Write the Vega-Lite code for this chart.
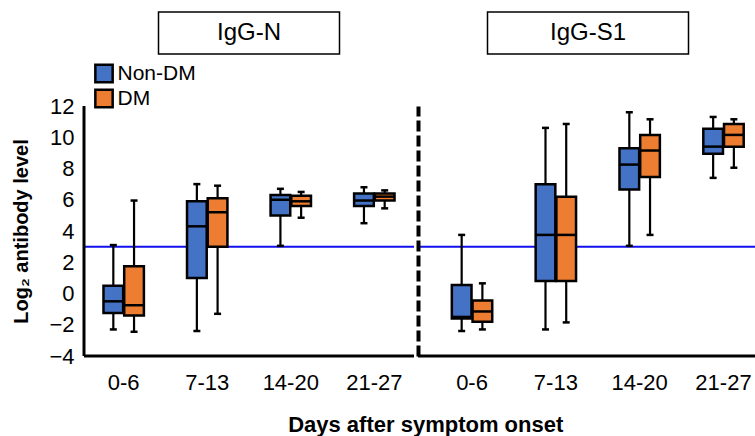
{
  "$schema": "https://vega.github.io/schema/vega-lite/v6.json",
  "background": "white",
  "padding": {"left": 11, "top": 11, "right": 0, "bottom": 0},
  "config": {
    "font": "Liberation Sans",
    "view": {"stroke": null},
    "axis": {"grid": false, "ticks": false, "domain": true, "domainColor": "black", "domainOpacity": 1, "labelColor": "black", "titleColor": "black", "labelFont": "Liberation Sans", "titleFont": "Liberation Sans", "zindex": 1},
    "legend": {"labelFont": "Liberation Sans"}
  },
  "datasets": {
    "boxes": [
      {"antibody": "IgG-N", "days": "0-6", "status": "Non-DM", "min": -2.3, "q1": -1.25, "median": -0.5, "q3": 0.5, "max": 3.1},
      {"antibody": "IgG-N", "days": "0-6", "status": "DM", "min": -2.45, "q1": -1.4, "median": -0.75, "q3": 1.75, "max": 5.95},
      {"antibody": "IgG-N", "days": "7-13", "status": "Non-DM", "min": -2.4, "q1": 1.0, "median": 4.3, "q3": 5.9, "max": 7.0},
      {"antibody": "IgG-N", "days": "7-13", "status": "DM", "min": -1.3, "q1": 3.0, "median": 5.2, "q3": 6.1, "max": 6.9},
      {"antibody": "IgG-N", "days": "14-20", "status": "Non-DM", "min": 3.05, "q1": 5.0, "median": 6.0, "q3": 6.3, "max": 6.7},
      {"antibody": "IgG-N", "days": "14-20", "status": "DM", "min": 4.85, "q1": 5.6, "median": 5.9, "q3": 6.25, "max": 6.5},
      {"antibody": "IgG-N", "days": "21-27", "status": "Non-DM", "min": 4.5, "q1": 5.6, "median": 5.95, "q3": 6.4, "max": 6.8},
      {"antibody": "IgG-N", "days": "21-27", "status": "DM", "min": 5.45, "q1": 5.95, "median": 6.2, "q3": 6.4, "max": 6.6},
      {"antibody": "IgG-S1", "days": "0-6", "status": "Non-DM", "min": -2.4, "q1": -1.6, "median": -1.5, "q3": 0.55, "max": 3.75},
      {"antibody": "IgG-S1", "days": "0-6", "status": "DM", "min": -2.3, "q1": -1.8, "median": -1.15, "q3": -0.45, "max": 0.65},
      {"antibody": "IgG-S1", "days": "7-13", "status": "Non-DM", "min": -2.3, "q1": 0.8, "median": 3.75, "q3": 7.0, "max": 10.6},
      {"antibody": "IgG-S1", "days": "7-13", "status": "DM", "min": -1.85, "q1": 0.8, "median": 3.75, "q3": 6.2, "max": 10.85},
      {"antibody": "IgG-S1", "days": "14-20", "status": "Non-DM", "min": 3.05, "q1": 6.65, "median": 8.25, "q3": 9.3, "max": 11.6},
      {"antibody": "IgG-S1", "days": "14-20", "status": "DM", "min": 3.75, "q1": 7.45, "median": 9.15, "q3": 10.15, "max": 11.15},
      {"antibody": "IgG-S1", "days": "21-27", "status": "Non-DM", "min": 7.4, "q1": 8.95, "median": 9.4, "q3": 10.55, "max": 11.3},
      {"antibody": "IgG-S1", "days": "21-27", "status": "DM", "min": 8.05, "q1": 9.4, "median": 10.15, "q3": 10.85, "max": 11.15}
    ]
  },
  "title": {"text": "Days after symptom onset", "orient": "bottom", "anchor": "middle", "fontSize": 22, "fontWeight": "bold", "font": "Liberation Sans", "color": "black", "offset": 22, "dx": 40},
  "spacing": 0,
  "resolve": {"scale": {"x": "independent", "xOffset": "independent", "y": "independent"}},
  "hconcat": [
    {
      "spacing": 52,
      "center": true,
      "bounds": "flush",
      "vconcat": [
        {
          "width": 181,
          "height": 42,
          "view": {"stroke": "black", "strokeWidth": 1.5},
          "data": {"values": [{"label": "IgG-N"}]},
          "mark": {"type": "text", "fontSize": 24, "font": "Liberation Sans", "color": "black"},
          "encoding": {"text": {"field": "label", "type": "nominal"}}
        },
        {
          "width": 330,
          "height": 250,
          "data": {"name": "boxes"},
          "transform": [{"filter": "datum.antibody === 'IgG-N'"}],
          "layer": [
            {
              "data": {"values": [{"cutoff": 3}]},
              "mark": {"type": "rule", "color": "#1010ee", "strokeWidth": 2},
              "encoding": {"y": {"field": "cutoff", "type": "quantitative", "scale": {"domain": [-4, 12]},
                "axis": {"values": [-4, -2, 0, 2, 4, 6, 8, 10, 12], "labelFontSize": 22, "labelPadding": 10, "labelOverlap": false, "format": "d", "domain": false, "zindex": 1,
                  "title": "Log₂ antibody level", "titleFontSize": 20, "titleFontWeight": "bold", "titlePadding": 17}}}
            },
            {
              "mark": {"type": "rule", "color": "black", "strokeWidth": 2.2},
              "encoding": {
                "x": {"field": "days", "type": "nominal", "sort": ["0-6", "7-13", "14-20", "21-27"],
                  "scale": {"paddingInner": 0.05, "paddingOuter": 0, "align": 0},
                  "axis": {"title": null, "labelAngle": 0, "labelFontSize": 22, "labelPadding": 16, "domain": false, "zindex": 1}},
                "xOffset": {"field": "status", "type": "nominal", "sort": ["Non-DM", "DM"], "scale": {"paddingInner": 0.05, "paddingOuter": 0.94}},
                "y": {"field": "min", "type": "quantitative",
                  "axis": {"values": [-4, -2, 0, 2, 4, 6, 8, 10, 12], "labelFontSize": 22, "labelPadding": 10, "labelOverlap": false, "format": "d", "domain": false, "zindex": 1,
                    "title": "Log₂ antibody level", "titleFontSize": 20, "titleFontWeight": "bold", "titlePadding": 17}},
                "y2": {"field": "max"}
              }
            },
            {
              "mark": {"type": "bar", "stroke": "black", "strokeWidth": 2.5},
              "encoding": {
                "x": {"field": "days", "type": "nominal", "sort": ["0-6", "7-13", "14-20", "21-27"]},
                "xOffset": {"field": "status", "type": "nominal", "sort": ["Non-DM", "DM"]},
                "y": {"field": "q1", "type": "quantitative",
                  "axis": {"values": [-4, -2, 0, 2, 4, 6, 8, 10, 12], "labelFontSize": 22, "labelPadding": 10, "labelOverlap": false, "format": "d", "domain": false, "zindex": 1,
                    "title": "Log₂ antibody level", "titleFontSize": 20, "titleFontWeight": "bold", "titlePadding": 17}},
                "y2": {"field": "q3"},
                "color": {"field": "status", "type": "nominal", "sort": ["Non-DM", "DM"],
                  "scale": {"domain": ["Non-DM", "DM"], "range": ["#4472C4", "#ED7D31"]},
                  "legend": {"title": null, "orient": "none", "legendX": 9.5, "legendY": 51, "symbolType": "square", "symbolSize": 300, "symbolStrokeColor": "black", "symbolStrokeWidth": 2.5, "labelFontSize": 21, "labelColor": "black", "labelOffset": 3, "rowPadding": -6}}
              }
            },
            {
              "mark": {"type": "tick", "color": "black", "size": 20, "thickness": 2.5, "opacity": 1},
              "encoding": {
                "x": {"field": "days", "type": "nominal", "sort": ["0-6", "7-13", "14-20", "21-27"]},
                "xOffset": {"field": "status", "type": "nominal", "sort": ["Non-DM", "DM"]},
                "y": {"field": "median", "type": "quantitative",
                  "axis": {"values": [-4, -2, 0, 2, 4, 6, 8, 10, 12], "labelFontSize": 22, "labelPadding": 10, "labelOverlap": false, "format": "d", "domain": false, "zindex": 1,
                    "title": "Log₂ antibody level", "titleFontSize": 20, "titleFontWeight": "bold", "titlePadding": 17}}}
            },
            {
              "mark": {"type": "tick", "color": "black", "size": 7, "thickness": 2.5, "opacity": 1},
              "encoding": {
                "x": {"field": "days", "type": "nominal", "sort": ["0-6", "7-13", "14-20", "21-27"]},
                "xOffset": {"field": "status", "type": "nominal", "sort": ["Non-DM", "DM"]},
                "y": {"field": "min", "type": "quantitative",
                  "axis": {"values": [-4, -2, 0, 2, 4, 6, 8, 10, 12], "labelFontSize": 22, "labelPadding": 10, "labelOverlap": false, "format": "d", "domain": false, "zindex": 1,
                    "title": "Log₂ antibody level", "titleFontSize": 20, "titleFontWeight": "bold", "titlePadding": 17}}}
            },
            {
              "mark": {"type": "tick", "color": "black", "size": 7, "thickness": 2.5, "opacity": 1},
              "encoding": {
                "x": {"field": "days", "type": "nominal", "sort": ["0-6", "7-13", "14-20", "21-27"]},
                "xOffset": {"field": "status", "type": "nominal", "sort": ["Non-DM", "DM"]},
                "y": {"field": "max", "type": "quantitative",
                  "axis": {"values": [-4, -2, 0, 2, 4, 6, 8, 10, 12], "labelFontSize": 22, "labelPadding": 10, "labelOverlap": false, "format": "d", "domain": false, "zindex": 1,
                    "title": "Log₂ antibody level", "titleFontSize": 20, "titleFontWeight": "bold", "titlePadding": 17}}}
            },
            {
              "transform": [{"filter": "datum.days === '0-6' && datum.status === 'Non-DM'"}],
              "mark": {"type": "rule", "color": "black", "strokeWidth": 3},
              "encoding": {
                "x": {"field": "days", "type": "nominal", "sort": ["0-6", "7-13", "14-20", "21-27"], "bandPosition": 0},
                "y": {"datum": -4, "type": "quantitative",
                  "axis": {"values": [-4, -2, 0, 2, 4, 6, 8, 10, 12], "labelFontSize": 22, "labelPadding": 10, "labelOverlap": false, "format": "d", "domain": false, "zindex": 1,
                    "title": "Log₂ antibody level", "titleFontSize": 20, "titleFontWeight": "bold", "titlePadding": 17}},
                "y2": {"datum": 12}
              }
            },
            {
              "data": {"values": [{"base": -4}]},
              "mark": {"type": "rule", "color": "black", "strokeWidth": 3},
              "encoding": {"y": {"field": "base", "type": "quantitative",
                "axis": {"values": [-4, -2, 0, 2, 4, 6, 8, 10, 12], "labelFontSize": 22, "labelPadding": 10, "labelOverlap": false, "format": "d", "domain": false, "zindex": 1,
                  "title": "Log₂ antibody level", "titleFontSize": 20, "titleFontWeight": "bold", "titlePadding": 17}}}
            }
          ]
        }
      ]
    },
    {
      "spacing": 52,
      "center": true,
      "bounds": "flush",
      "vconcat": [
        {
          "width": 201,
          "height": 42,
          "view": {"stroke": "black", "strokeWidth": 1.5},
          "data": {"values": [{"label": "IgG-S1"}]},
          "mark": {"type": "text", "fontSize": 24, "font": "Liberation Sans", "color": "black"},
          "encoding": {"text": {"field": "label", "type": "nominal"}}
        },
        {
          "width": 340,
          "height": 250,
          "data": {"name": "boxes"},
          "transform": [{"filter": "datum.antibody === 'IgG-S1'"}],
          "layer": [
            {
              "data": {"values": [{"cutoff": 3}]},
              "mark": {"type": "rule", "color": "#1010ee", "strokeWidth": 2},
              "encoding": {"y": {"field": "cutoff", "type": "quantitative", "scale": {"domain": [-4, 12]},
                "axis": {"labels": false, "title": null, "domain": true, "domainColor": "black", "domainWidth": 4, "domainDash": [11, 4], "zindex": 1}}}
            },
            {
              "mark": {"type": "rule", "color": "black", "strokeWidth": 2.2},
              "encoding": {
                "x": {"field": "days", "type": "nominal", "sort": ["0-6", "7-13", "14-20", "21-27"],
                  "scale": {"paddingInner": 0.177, "paddingOuter": 0.1165, "align": 1},
                  "axis": {"title": null, "labelAngle": 0, "labelFontSize": 22, "labelPadding": 16, "domain": false, "zindex": 1}},
                "xOffset": {"field": "status", "type": "nominal", "sort": ["Non-DM", "DM"], "scale": {"paddingInner": 0.05, "paddingOuter": 0.69}},
                "y": {"field": "min", "type": "quantitative",
                  "axis": {"labels": false, "title": null, "domain": true, "domainColor": "black", "domainWidth": 4, "domainDash": [11, 4], "zindex": 1}},
                "y2": {"field": "max"}
              }
            },
            {
              "mark": {"type": "bar", "stroke": "black", "strokeWidth": 2.5},
              "encoding": {
                "x": {"field": "days", "type": "nominal", "sort": ["0-6", "7-13", "14-20", "21-27"]},
                "xOffset": {"field": "status", "type": "nominal", "sort": ["Non-DM", "DM"]},
                "y": {"field": "q1", "type": "quantitative",
                  "axis": {"labels": false, "title": null, "domain": true, "domainColor": "black", "domainWidth": 4, "domainDash": [11, 4], "zindex": 1}},
                "y2": {"field": "q3"},
                "color": {"field": "status", "type": "nominal", "sort": ["Non-DM", "DM"],
                  "scale": {"domain": ["Non-DM", "DM"], "range": ["#4472C4", "#ED7D31"]},
                  "legend": {"title": null, "orient": "none", "legendX": 9.5, "legendY": 51, "symbolType": "square", "symbolSize": 300, "symbolStrokeColor": "black", "symbolStrokeWidth": 2.5, "labelFontSize": 21, "labelColor": "black", "labelOffset": 3, "rowPadding": -6}}
              }
            },
            {
              "mark": {"type": "tick", "color": "black", "size": 20, "thickness": 2.5, "opacity": 1},
              "encoding": {
                "x": {"field": "days", "type": "nominal", "sort": ["0-6", "7-13", "14-20", "21-27"]},
                "xOffset": {"field": "status", "type": "nominal", "sort": ["Non-DM", "DM"]},
                "y": {"field": "median", "type": "quantitative",
                  "axis": {"labels": false, "title": null, "domain": true, "domainColor": "black", "domainWidth": 4, "domainDash": [11, 4], "zindex": 1}}}
            },
            {
              "mark": {"type": "tick", "color": "black", "size": 7, "thickness": 2.5, "opacity": 1},
              "encoding": {
                "x": {"field": "days", "type": "nominal", "sort": ["0-6", "7-13", "14-20", "21-27"]},
                "xOffset": {"field": "status", "type": "nominal", "sort": ["Non-DM", "DM"]},
                "y": {"field": "min", "type": "quantitative",
                  "axis": {"labels": false, "title": null, "domain": true, "domainColor": "black", "domainWidth": 4, "domainDash": [11, 4], "zindex": 1}}}
            },
            {
              "mark": {"type": "tick", "color": "black", "size": 7, "thickness": 2.5, "opacity": 1},
              "encoding": {
                "x": {"field": "days", "type": "nominal", "sort": ["0-6", "7-13", "14-20", "21-27"]},
                "xOffset": {"field": "status", "type": "nominal", "sort": ["Non-DM", "DM"]},
                "y": {"field": "max", "type": "quantitative",
                  "axis": {"labels": false, "title": null, "domain": true, "domainColor": "black", "domainWidth": 4, "domainDash": [11, 4], "zindex": 1}}}
            },
            {
              "data": {"values": [{"base": -4}]},
              "mark": {"type": "rule", "color": "black", "strokeWidth": 3},
              "encoding": {"y": {"field": "base", "type": "quantitative",
                "axis": {"labels": false, "title": null, "domain": true, "domainColor": "black", "domainWidth": 4, "domainDash": [11, 4], "zindex": 1}}}
            }
          ]
        }
      ]
    }
  ]
}
